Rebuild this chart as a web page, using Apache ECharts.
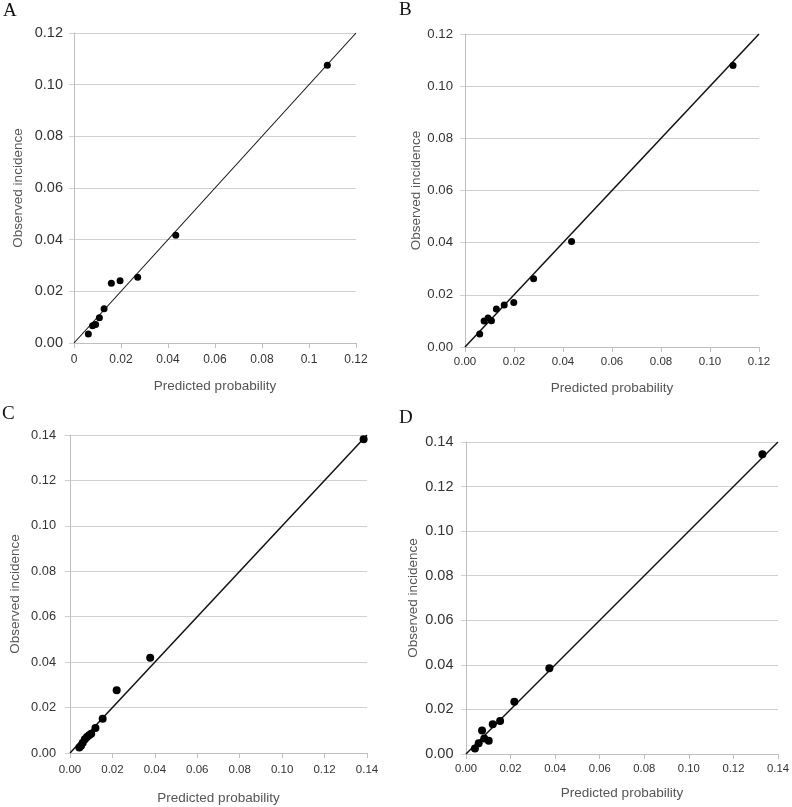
<!DOCTYPE html>
<html>
<head>
<meta charset="utf-8">
<script src="https://cdn.jsdelivr.net/npm/echarts@6/dist/echarts.min.js"></script>
<style>html,body{margin:0;padding:0;background:#fff}#c{width:792px;height:807px}</style>
</head>
<body>
<div id="c"></div>
<script>
// ---- data ----
const panelLetters = ['A', 'B', 'C', 'D'];
const axisMax = [0.12, 0.12, 0.14, 0.14];
const xTickLabelsA = ['0', '0.02', '0.04', '0.06', '0.08', '0.1', '0.12'];
const xTickLabelsB = ['0.00', '0.02', '0.04', '0.06', '0.08', '0.10', '0.12'];
const xTickLabelsC = ['0.00', '0.02', '0.04', '0.06', '0.08', '0.10', '0.12', '0.14'];
const xTickLabelsD = ['0.00', '0.02', '0.04', '0.06', '0.08', '0.10', '0.12', '0.14'];
const yTickLabels12 = ['0.00', '0.02', '0.04', '0.06', '0.08', '0.10', '0.12'];
const yTickLabels14 = ['0.00', '0.02', '0.04', '0.06', '0.08', '0.10', '0.12', '0.14'];
const xTitle = 'Predicted probability';
const yTitle = 'Observed incidence';

const predA = [0.0061, 0.0079, 0.0092, 0.0108, 0.0128, 0.0159, 0.0196, 0.0271, 0.0433, 0.1078];
const obsA  = [0.0035, 0.0067, 0.0072, 0.0098, 0.0133, 0.0231, 0.0241, 0.0255, 0.0417, 0.1075];
const predB = [0.0060, 0.0078, 0.0094, 0.0108, 0.0128, 0.0160, 0.0199, 0.0280, 0.0435, 0.1094];
const obsB  = [0.0050, 0.0100, 0.0111, 0.0101, 0.0146, 0.0161, 0.0171, 0.0262, 0.0404, 0.1079];
const predC = [0.0044, 0.0052, 0.0060, 0.0070, 0.0080, 0.0090, 0.0100, 0.0120, 0.0154, 0.0220, 0.0378, 0.1384];
const obsC  = [0.0024, 0.0032, 0.0045, 0.0060, 0.0070, 0.0078, 0.0085, 0.0110, 0.0151, 0.0276, 0.0419, 0.1381];
const predD = [0.0040, 0.0057, 0.0072, 0.0082, 0.0102, 0.0120, 0.0153, 0.0217, 0.0374, 0.1330];
const obsD  = [0.0025, 0.0048, 0.0105, 0.0070, 0.0060, 0.0134, 0.0148, 0.0235, 0.0385, 0.1345];

// ---- layout ----
const grids = [
  {left: 74, top: 33, width: 282, height: 310},
  {left: 465, top: 34, width: 294, height: 313},
  {left: 70, top: 435, width: 297, height: 318},
  {left: 466, top: 442, width: 312, height: 312}
];
const xGaps = [36, 34, 38, 32];
const yGaps = [49, 42, 48, 46];
const xFont = [12, 11.5, 11.5, 11.3];
const yFont = [14.5, 13.2, 12.8, 14.5];
const xMargin = [11, 9, 11, 9];
const yMargin = [11, 12, 14, 12.5];
const xLabelSets = [xTickLabelsA, xTickLabelsB, xTickLabelsC, xTickLabelsD];
const yLabelSets = [yTickLabels12, yTickLabels12, yTickLabels14, yTickLabels14];
const preds = [predA, predB, predC, predD];
const obss = [obsA, obsB, obsC, obsD];
const letterPos = [[3, 2], [399, 1], [2, 405], [399, 409]];
const symSizes = [7, 7, 8, 8];
const lineWidths = [1.1, 1.5, 1.5, 1.5];

const font = 'Liberation Sans, Arial, sans-serif';
const option = {
  backgroundColor: '#fff',
  animation: false,
  grid: grids.map(g => Object.assign({containLabel: false}, g)),
  xAxis: grids.map((g, i) => ({
    type: 'value', gridIndex: i, min: 0, max: axisMax[i], interval: 0.02,
    name: xTitle, nameLocation: 'middle', nameGap: xGaps[i],
    nameTextStyle: {fontFamily: font, fontSize: 13.5, color: '#555'},
    axisLine: {show: true, lineStyle: {color: '#bfbfbf', width: 1}},
    axisTick: {show: true, length: 5, lineStyle: {color: '#bfbfbf'}},
    splitLine: {show: false},
    axisLabel: {
      fontFamily: font, fontSize: xFont[i], color: '#333', margin: xMargin[i],
      formatter: (v) => xLabelSets[i][Math.round(v / 0.02)]
    }
  })),
  yAxis: grids.map((g, i) => ({
    type: 'value', gridIndex: i, min: 0, max: axisMax[i], interval: 0.02,
    name: yTitle, nameLocation: 'middle', nameGap: yGaps[i],
    nameTextStyle: {fontFamily: font, fontSize: 13.5, color: '#555'},
    axisLine: {show: true, lineStyle: {color: '#bfbfbf', width: 1}},
    axisTick: {show: true, length: 5, lineStyle: {color: '#d0d0d0'}},
    splitLine: {show: true, lineStyle: {color: '#d0d0d0', width: 1}},
    axisLabel: {
      fontFamily: font, fontSize: yFont[i], color: '#333', margin: yMargin[i],
      formatter: (v) => yLabelSets[i][Math.round(v / 0.02)]
    }
  })),
  series: [],
  graphic: panelLetters.map((t, i) => ({
    type: 'text', left: letterPos[i][0], top: letterPos[i][1],
    style: {text: t, font: '19px "Liberation Serif", "Times New Roman", serif', fill: '#111'}
  }))
};
for (let i = 0; i < 4; i++) {
  option.series.push({
    type: 'line', xAxisIndex: i, yAxisIndex: i,
    data: [[0, 0], [axisMax[i], axisMax[i]]],
    symbol: 'none', lineStyle: {color: '#111', width: lineWidths[i]}, z: 2, silent: true
  });
  option.series.push({
    type: 'scatter', xAxisIndex: i, yAxisIndex: i,
    data: preds[i].map((p, k) => [p, obss[i][k]]),
    symbol: 'circle', symbolSize: symSizes[i],
    itemStyle: {color: '#000', opacity: 1}, z: 3
  });
}
const chart = echarts.init(document.getElementById('c'));
chart.setOption(option);
</script>
</body>
</html>
